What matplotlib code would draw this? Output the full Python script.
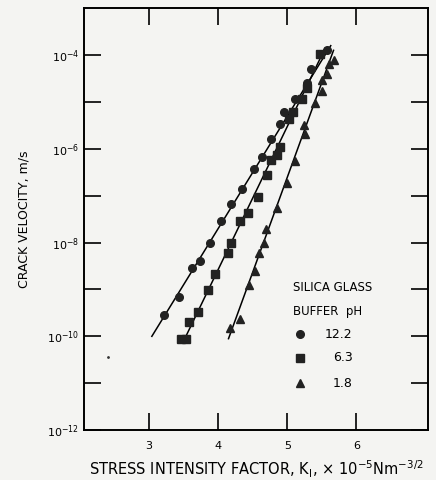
import numpy as np
import matplotlib.pyplot as plt
from matplotlib.ticker import FixedLocator, NullFormatter

# pH 12.2 (circles)
k_122 = [3.22, 3.43, 3.62, 3.74, 3.88, 4.04, 4.18, 4.34, 4.52, 4.63, 4.77, 4.89, 4.95, 5.11, 5.29, 5.34, 5.58]
v_122 = [-9.55, -9.17, -8.55, -8.40, -8.00, -7.55, -7.17, -6.85, -6.43, -6.17, -5.79, -5.47, -5.21, -4.94, -4.60, -4.30, -3.90]
# pH 6.3 (squares)
k_63 = [3.46, 3.53, 3.58, 3.71, 3.85, 3.95, 4.14, 4.18, 4.31, 4.43, 4.57, 4.70, 4.76, 4.85, 4.89, 5.03, 5.09, 5.22, 5.28, 5.48]
v_63 = [-10.06, -10.06, -9.70, -9.49, -9.02, -8.66, -8.23, -8.00, -7.55, -7.38, -7.02, -6.55, -6.23, -6.13, -5.96, -5.36, -5.21, -4.94, -4.70, -3.98]
# pH 1.8 (triangles)
k_18 = [4.17, 4.31, 4.44, 4.53, 4.59, 4.66, 4.69, 4.85, 4.99, 5.11, 5.25, 5.24, 5.40, 5.50, 5.50, 5.58, 5.60, 5.67]
v_18 = [-9.83, -9.62, -8.91, -8.60, -8.23, -8.02, -7.72, -7.26, -6.74, -6.26, -5.68, -5.49, -5.02, -4.77, -4.53, -4.40, -4.20, -4.10]

# fitted lines, end points (K, log10 v)
line_122 = ([3.04, 5.63], [-10.0, -3.8])
line_63 = ([3.50, 5.55], [-10.1, -3.85])
line_18 = ([4.15, 5.67], [-10.05, -3.9])

ph_labels = ['12.2', '6.3', '1.8']

fig = plt.figure(figsize=(4.36, 4.8), dpi=100, facecolor='#f4f4f2')
ax = fig.add_axes([0.193, 0.104, 0.789, 0.879])
ax.set_facecolor('#f4f4f2')

for (lx, ly) in [line_122, line_63, line_18]:
    ax.plot(lx, 10.0 ** np.array(ly), color='black', lw=1.1)

ax.plot(k_122, 10.0 ** np.array(v_122), 'o', color='#222222', ms=5.5)
ax.plot(k_63, 10.0 ** np.array(v_63), 's', color='#222222', ms=5.5)
ax.plot(k_18, 10.0 ** np.array(v_18), '^', color='#222222', ms=6)
ax.plot([2.41], [10 ** -10.45], '.', color='#333333', ms=2)

ax.set_yscale('log')
ax.set_xlim(2.06, 7.04)
ax.set_ylim(1e-12, 1e-3)

ax.xaxis.set_major_locator(FixedLocator([3, 4, 5, 6]))
ax.set_xticklabels(['3', '4', '5', '6'])
ax.yaxis.set_major_locator(FixedLocator([1e-12, 1e-10, 1e-8, 1e-6, 1e-4]))
ax.set_yticklabels([r'$10^{-12}$', r'$10^{-10}$', r'$10^{-8}$', r'$10^{-6}$', r'$10^{-4}$'])
ax.yaxis.set_minor_locator(FixedLocator([1e-11, 1e-9, 1e-7, 1e-5]))
ax.yaxis.set_minor_formatter(NullFormatter())

ax.tick_params(which='both', direction='in', top=True, right=True, labelsize=8, width=1.2)
ax.tick_params(which='both', length=12)
ax.tick_params(axis='x', pad=8)
for s in ax.spines.values():
    s.set_linewidth(1.4)

ax.set_ylabel('CRACK VELOCITY, m/s', fontsize=9, labelpad=12)
ax.set_xlabel(r'STRESS INTENSITY FACTOR, K$_{\mathrm{I}}$, $\times$ 10$^{-5}$Nm$^{-3/2}$',
              fontsize=10.5, labelpad=5)

# legend block
ax.text(0.607, 0.339, 'SILICA GLASS', transform=ax.transAxes, fontsize=8.5, va='center')
ax.text(0.607, 0.280, 'BUFFER  pH', transform=ax.transAxes, fontsize=8.5, va='center')
markers = ['o', 's', '^']
rows = [0.227, 0.172, 0.111]
for m, lab, yy in zip(markers, ph_labels, rows):
    ax.plot([0.627], [yy], m, color='#222222', ms=5.5, transform=ax.transAxes)
    ax.text(0.78, yy, lab, transform=ax.transAxes, fontsize=9, ha='right', va='center')

fig.savefig('out.png', dpi=100, facecolor=fig.get_facecolor())
